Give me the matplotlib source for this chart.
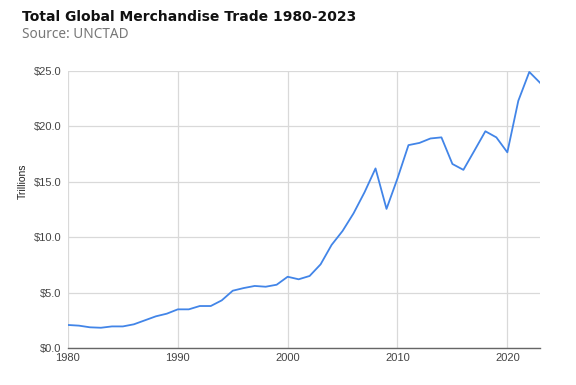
import matplotlib.pyplot as plt

years = list(range(1980, 2024))
trade = [2.08, 2.02, 1.87, 1.83, 1.95, 1.95, 2.14, 2.5, 2.86, 3.1,
         3.49, 3.49, 3.79, 3.79, 4.3, 5.17, 5.41, 5.6, 5.53, 5.71,
         6.43, 6.2, 6.5, 7.55, 9.3, 10.56, 12.15, 14.05, 16.2, 12.55,
         15.3, 18.3, 18.5, 18.9, 19.0, 16.6, 16.07, 17.8, 19.55, 19.0,
         17.65, 22.3, 24.9, 23.9]

x_ticks = [1980, 1990, 2000, 2010, 2020]
y_ticks = [0, 5, 10, 15, 20, 25]
y_labels = ["$0.0", "$5.0", "$10.0", "$15.0", "$20.0", "$25.0"]

fig = plt.figure(figsize=(5.76, 3.85), dpi=100)
ax = fig.add_axes([0.118, 0.096, 0.82, 0.72])

ax.plot(years, trade, color="#4285e8", lw=1.3, zorder=3)

ax.set_xlim(1980, 2023)
ax.set_ylim(0, 25)
ax.set_xticks(x_ticks)
ax.set_yticks(y_ticks)
ax.set_yticklabels(y_labels)

ax.grid(True, color="#d9d9d9", lw=0.9)
ax.set_axisbelow(True)
for s in ["top", "right", "left"]:
    ax.spines[s].set_visible(False)
ax.spines["bottom"].set_color("#666666")
ax.spines["bottom"].set_linewidth(1.0)
ax.spines["bottom"].set_zorder(4)

ax.tick_params(length=0, labelsize=8, labelcolor="#444444")
ax.tick_params(axis="y", pad=5)
ax.tick_params(axis="x", pad=3.5)
for lab in ax.get_xticklabels() + ax.get_yticklabels():
    lab.set_family("Liberation Sans")

ax.set_ylabel("Trillions", fontsize=7.5, color="#222222", family="Liberation Sans")
ax.yaxis.set_label_coords(-0.085, 0.6)

fig.text(0.038, 0.955, "Total Global Merchandise Trade 1980-2023", fontsize=10,
         fontweight="bold", family="DejaVu Sans", color="#111111", va="center")
fig.text(0.038, 0.91, "Source: UNCTAD", fontsize=9.8, family="Noto Sans",
         color="#777777", va="center")

fig.savefig("out.png", dpi=100)
